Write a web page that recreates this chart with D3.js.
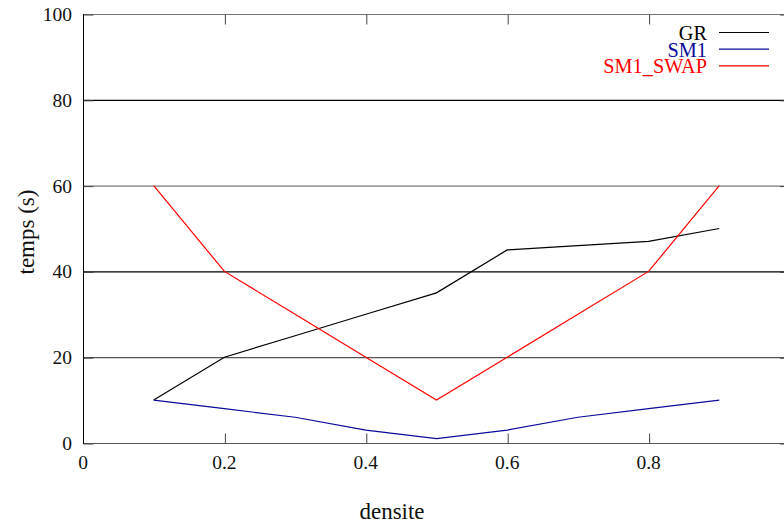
<!DOCTYPE html>
<html>
<head>
<meta charset="utf-8">
<script src="https://cdn.jsdelivr.net/npm/d3@7"></script>
<style>
  body { margin: 0; background: #fff; }
</style>
</head>
<body>
<script>
// data
const densite = [0.1, 0.2, 0.3, 0.4, 0.5, 0.6, 0.7, 0.8, 0.9];
const gr = [10, 20, 25, 30, 35, 45, 46, 47, 50];
const sm1 = [10, 8, 6, 3, 1, 3, 6, 8, 10];
const sm1Swap = [60, 40, 30, 20, 10, 20, 30, 40, 60];
const xTicks = [0, 0.2, 0.4, 0.6, 0.8];
const yTicks = [0, 20, 40, 60, 80, 100];

const series = [
  { name: "GR", values: gr, color: "#000000" },
  { name: "SM1", values: sm1, color: "#0a0a9a" },
  { name: "SM1_SWAP", values: sm1Swap, color: "#ff0000" }
];

const width = 784;
const height = 523;
const margin = { left: 83, top: 14, right: -6, bottom: 80 };
const serif = "'Liberation Serif', 'Times New Roman', Times, 'DejaVu Serif', serif";

const svg = d3.select("body")
    .append("svg")
    .attr("width", width)
    .attr("height", height)
    .style("font-family", serif);

const xScale = d3.scaleLinear()
    .domain([0, 1])
    .range([margin.left, width - margin.right]);

const yScale = d3.scaleLinear()
    .domain([0, 100])
    .range([height - margin.bottom, margin.top]);

// horizontal grid lines (gnuplot style, alternating greys)
const gridColor = { 0: "#555", 20: "#555", 40: "#000", 60: "#777", 80: "#000", 100: "#777" };
svg.append("g")
    .selectAll("line")
    .data(yTicks)
    .enter()
    .append("line")
    .attr("x1", margin.left)
    .attr("x2", width - margin.right)
    .attr("y1", d => yScale(d) + 0.5)
    .attr("y2", d => yScale(d) + 0.5)
    .attr("stroke", d => gridColor[d])
    .attr("stroke-width", 1.2);

// left border
svg.append("line")
    .attr("x1", margin.left + 0.5).attr("x2", margin.left + 0.5)
    .attr("y1", yScale(100)).attr("y2", yScale(0) + 1)
    .attr("stroke", "#000");

// Y axis
const yAxis = svg.append("g")
    .attr("transform", "translate(" + (margin.left + 0.5) + ",0.5)")
    .call(d3.axisRight(yScale).tickValues(yTicks).tickSize(10).tickFormat(""));
yAxis.select(".domain").remove();
yAxis.selectAll("line").attr("stroke", "#444");

svg.append("g")
    .selectAll("text")
    .data(yTicks)
    .enter()
    .append("text")
    .attr("x", 72)
    .attr("y", d => yScale(d) + 7)
    .attr("text-anchor", "end")
    .attr("font-size", 19.5)
    .attr("font-family", serif)
    .attr("fill", "#111")
    .text(d => d);

// right axis ticks
const yAxisR = svg.append("g")
    .attr("transform", "translate(" + (width - margin.right) + ",0.5)")
    .call(d3.axisLeft(yScale).tickValues(yTicks).tickSize(10).tickFormat(""));
yAxisR.select(".domain").remove();
yAxisR.selectAll("line").attr("stroke", "#444");

// X axis ticks (bottom, inward) and top mirrored
const xAxis = svg.append("g")
    .attr("transform", "translate(0.5," + (yScale(0) + 0.5) + ")")
    .call(d3.axisTop(xScale).tickValues(xTicks.slice(1)).tickSize(10).tickFormat(""));
xAxis.select(".domain").remove();
xAxis.selectAll("line").attr("stroke", "#444");

const xAxisTop = svg.append("g")
    .attr("transform", "translate(0.5," + (yScale(100) + 0.5) + ")")
    .call(d3.axisBottom(xScale).tickValues(xTicks.slice(1)).tickSize(10).tickFormat(""));
xAxisTop.select(".domain").remove();
xAxisTop.selectAll("line").attr("stroke", "#444");

svg.append("g")
    .selectAll("text")
    .data(xTicks)
    .enter()
    .append("text")
    .attr("x", d => xScale(d))
    .attr("y", 469)
    .attr("text-anchor", "middle")
    .attr("font-size", 19.5)
    .attr("font-family", serif)
    .attr("fill", "#111")
    .text(d => d);

// axis titles
svg.append("text")
    .attr("x", 392)
    .attr("y", 519)
    .attr("text-anchor", "middle")
    .attr("font-size", 23)
    .attr("font-family", serif)
    .attr("fill", "#111")
    .text("densite");

svg.append("text")
    .attr("transform", "translate(34,232) rotate(-90)")
    .attr("text-anchor", "middle")
    .attr("font-size", 23)
    .attr("font-family", serif)
    .attr("fill", "#111")
    .text("temps (s)");

// lines
const line = d3.line()
    .x((d, i) => xScale(densite[i]))
    .y(d => yScale(d));

svg.append("g")
    .selectAll("path")
    .data(series)
    .enter()
    .append("path")
    .attr("d", d => line(d.values))
    .attr("fill", "none")
    .attr("stroke", d => d.color)
    .attr("stroke-width", 1.2);

// legend
const legend = svg.append("g")
    .selectAll("g")
    .data(series)
    .enter()
    .append("g")
    .attr("transform", (d, i) => "translate(0," + (i * 16.7) + ")");

legend.append("text")
    .attr("x", 707)
    .attr("y", 40)
    .attr("text-anchor", "end")
    .attr("font-size", 20.3)
    .attr("font-family", serif)
    .attr("fill", d => d.color)
    .text(d => d.name);

legend.append("line")
    .attr("x1", 719)
    .attr("x2", 769)
    .attr("y1", 32.5)
    .attr("y2", 32.5)
    .attr("stroke", d => d.color)
    .attr("stroke-width", 1.2);
</script>
</body>
</html>
